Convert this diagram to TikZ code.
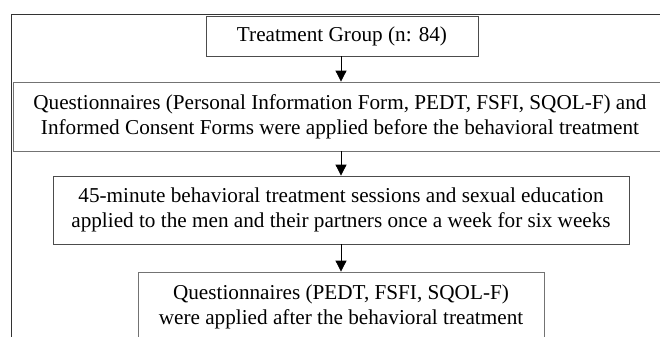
\documentclass[tikz,border=0pt]{standalone}
\usepackage{fontspec}
\setmainfont{Liberation Serif}
\usepackage{tikz}
\usetikzlibrary{arrows.meta,positioning}

\begin{document}
\begin{tikzpicture}[
    x=1bp, y=-1bp,
    stage/.style={draw=black!70, line width=0.8bp, inner sep=0pt, align=center, font=\fontsize{21.2bp}{25bp}\selectfont},
    arr/.style={-{Triangle[length=11bp,width=11bp]}, line width=0.8bp}
]
\clip (0,0) rectangle (660,336);
\draw[black!80, line width=0.9bp] (11,14) rectangle (690,360);

\node[stage, minimum width=272bp, minimum height=40bp] (group) at (342,36) {Treatment Group (n: 84)};
\node[stage, minimum width=654bp, minimum height=69bp, draw=black!55] (pre) at (340,116.5) {Questionnaires (Personal Information Form, PEDT, FSFI, SQOL-F) and\\Informed Consent Forms were applied before the behavioral treatment};
\node[stage, minimum width=576bp, minimum height=68bp] (sessions) at (341,210) {45-minute behavioral treatment sessions and sexual education\\applied to the men and their partners once a week for six weeks};
\node[stage, minimum width=406bp, minimum height=70bp, draw=black!55] (post) at (341,307) {Questionnaires (PEDT, FSFI, SQOL-F)\\were applied after the behavioral treatment};

\draw[arr] (group.south -| 341,0) -- (pre.north -| 341,0);
\draw[arr] (pre.south -| 341,0) -- (sessions.north -| 341,0);
\draw[arr] (sessions.south -| 341,0) -- (post.north -| 341,0);
\end{tikzpicture}
\end{document}
